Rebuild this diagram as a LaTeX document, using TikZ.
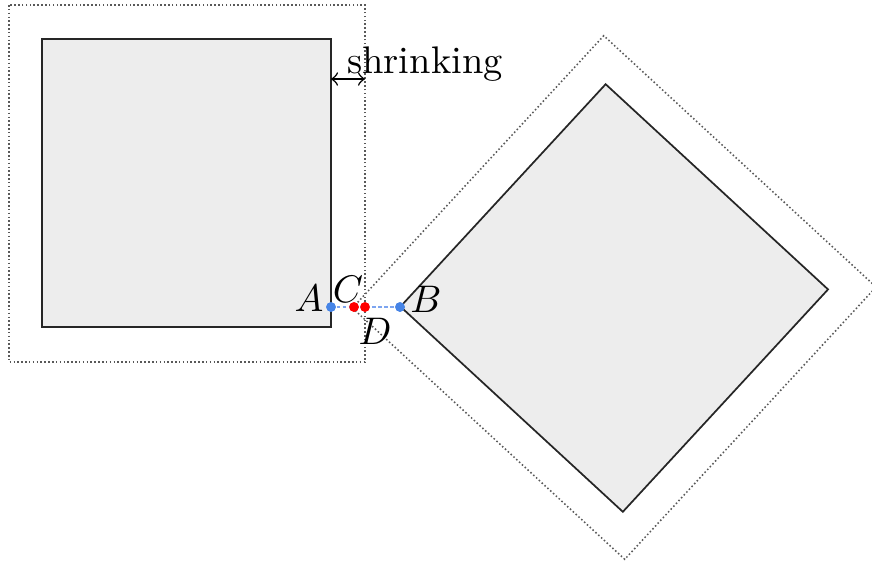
\documentclass[tikz,border=0pt]{standalone}
\definecolor{ptblue}{RGB}{70,132,230}
\definecolor{lineblue}{RGB}{125,165,240}
\begin{document}
\begin{tikzpicture}[x=0.26pt,y=-0.26pt,
  sq/.style={draw=black!85, fill=gray!14, line width=0.45pt, line join=miter},
  outl/.style={draw=black!65, line width=0.4pt, dash pattern=on 0.4pt off 0.6pt},
  bpt/.style={circle, fill=ptblue, inner sep=0pt, minimum size=2.5pt},
  rpt/.style={circle, fill=red, inner sep=0pt, minimum size=2.5pt},
  lbl/.style={inner sep=0pt}]
\useasboundingbox (0,0) rectangle (872,565);
% left square
\draw[outl] (9,5) rectangle (365,362);
\draw[sq] (42,39) rectangle (331,327);
% rotated square
\draw[outl] (352.45,308) -- (603.75,35.7) -- (876.05,287) -- (624.75,559.3) -- cycle;
\draw[sq] (400.45,306.6) -- (605.65,84.2) -- (828.05,289.4) -- (622.85,511.8) -- cycle;
% shrinking arrow
\coordinate (s1) at (331,79);
\coordinate (s2) at (365,79);
\draw[<->, line width=0.4pt] (s1) -- (s2);
\node[lbl] (shr) at (425,64) {shrinking};
% points
\node[bpt] (A) at (331,307) {};
\node[rpt] (C) at (354,307) {};
\node[rpt] (D) at (365,307) {};
\node[bpt] (B) at (400,307) {};
\draw[lineblue, line width=0.5pt, dash pattern=on 0.85pt off 0.7pt] (A) -- (B);
\node[bpt] at (A) {};
\node[bpt] at (B) {};
\node[rpt] at (C) {};
\node[rpt] at (D) {};
\node[lbl] (lA) at (309,298) {$A$};
\node[lbl] (lC) at (348,289) {$C$};
\node[lbl] (lD) at (375,331) {$D$};
\node[lbl] (lB) at (426,299) {$B$};
\end{tikzpicture}
\end{document}
